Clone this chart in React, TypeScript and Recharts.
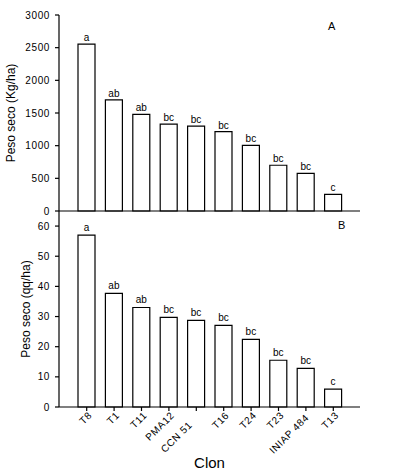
import React from 'react';
import { BarChart, Bar, XAxis, YAxis, LabelList } from 'recharts';

// Dry weight per clone, two units (panel A: kg/ha, panel B: qq/ha)
// trailing blanks are kept: the source plot shifts those two names back
const clones = ['T8', 'T1', 'T11', 'PMA12', 'CCN 51    ', 'T16', 'T24', 'T23', 'INIAP 484 ', 'T13'];
const kgPerHa = [2555, 1700, 1480, 1330, 1300, 1215, 1005, 700, 575, 255];
const qqPerHa = [57.0, 37.7, 33.0, 29.7, 28.7, 27.1, 22.4, 15.5, 12.8, 5.9];
const groupsA = ['a', 'ab', 'ab', 'bc', 'bc', 'bc', 'bc', 'bc', 'bc', 'c'];
const groupsB = ['a', 'ab', 'ab', 'bc', 'bc', 'bc', 'bc', 'bc', 'bc', 'c'];
const kgTicks = [0, 500, 1000, 1500, 2000, 2500, 3000];
const qqTicks = [0, 10, 20, 30, 40, 50, 60];

const data = clones.map((clon, i) => ({
  clon,
  kg: kgPerHa[i],
  qq: qqPerHa[i],
  gA: groupsA[i],
  gB: groupsB[i],
}));

const FONT = '"Liberation Sans", Arial, sans-serif';
const tickStyle = { fontSize: 10, fill: '#000', fontFamily: FONT, letterSpacing: 0.6 };
const line = { stroke: '#000', strokeWidth: 1.2 };

const CloneTick = ({ x, y, payload }: any) => {
  const ax = x + 6;
  const ay = y + 3;
  return (
    <text
      x={ax}
      y={ay}
      textAnchor="end"
      transform={`rotate(-45, ${ax}, ${ay})`}
      fontSize={10}
      fontFamily={FONT}
      fill="#000"
      style={{ letterSpacing: 0.6, whiteSpace: 'pre' }}
    >
      {payload.value}
    </text>
  );
};

const frameAxes = (
  <>
    <XAxis xAxisId="top" orientation="top" height={0} tick={false} tickLine={false} axisLine={line} />
    <YAxis yAxisId="r" orientation="right" width={0} tick={false} tickLine={false} axisLine={line} domain={[0, 1]} />
  </>
);

export default function App() {
  return (
    <div style={{ position: 'absolute', left: 0, top: 0, width: 393, height: 472, background: '#fff', fontFamily: FONT }}>
      <div style={{ position: 'absolute', left: 0, top: 200 }}>
        <BarChart width={393} height={272} data={data} margin={{ top: 11, right: 33, left: 0, bottom: 0 }}>
          <XAxis
            dataKey="clon"
            height={65}
            interval={0}
            tickSize={4}
            axisLine={line}
            tickLine={line}
            tick={<CloneTick />}
            padding={{ left: 14, right: 13 }}
            label={{ value: 'Clon', position: 'insideBottom', offset: 4, style: { fontSize: 15, fill: '#000', fontFamily: FONT } }}
          />
          <YAxis
            width={59}
            domain={[0, 65]}
            ticks={qqTicks}
            interval={0}
            tickSize={4}
            tickMargin={5}
            axisLine={line}
            tickLine={line}
            tick={tickStyle}
            label={{ value: 'Peso seco (qq/ha)', angle: -90, position: 'insideLeft', offset: 26, style: { textAnchor: 'middle', fontSize: 12, fill: '#000', fontFamily: FONT } }}
          />
          {frameAxes}
          <Bar dataKey="qq" fill="#fff" stroke="#000" strokeWidth={1.2} barSize={17} isAnimationActive={false}>
            <LabelList dataKey="gB" position="top" offset={4} style={{ fontSize: 10, fill: '#000', fontFamily: FONT }} />
          </Bar>
        </BarChart>
      </div>
      <div style={{ position: 'absolute', left: 0, top: 0 }}>
        <BarChart width={393} height={222} data={data} margin={{ top: 15, right: 33, left: 0, bottom: 7 }}>
          <XAxis
            dataKey="clon"
            height={4}
            interval={0}
            tickSize={4}
            axisLine={line}
            tickLine={line}
            tick={false}
            padding={{ left: 14, right: 13 }}
          />
          <YAxis
            width={59}
            domain={[0, 3000]}
            ticks={kgTicks}
            interval={0}
            tickSize={4}
            tickMargin={5}
            axisLine={line}
            tickLine={line}
            tick={tickStyle}
            label={{ value: 'Peso seco (Kg/ha)', angle: -90, position: 'insideLeft', offset: 11, style: { textAnchor: 'middle', fontSize: 12, fill: '#000', fontFamily: FONT } }}
          />
          {frameAxes}
          <Bar dataKey="kg" fill="#fff" stroke="#000" strokeWidth={1.2} barSize={17} isAnimationActive={false}>
            <LabelList dataKey="gA" position="top" offset={3} style={{ fontSize: 10, fill: '#000', fontFamily: FONT }} />
          </Bar>
        </BarChart>
      </div>
      <div style={{ position: 'absolute', left: 328, top: 20, fontSize: 11 }}>A</div>
      <div style={{ position: 'absolute', left: 338, top: 219, fontSize: 11 }}>B</div>
    </div>
  );
}
